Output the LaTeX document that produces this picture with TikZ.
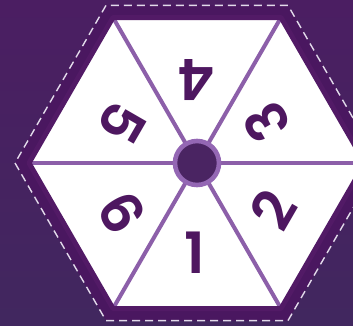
\documentclass[tikz,border=0pt]{standalone}
\usepackage{fontspec}
\setmainfont{Poppins}
\newfontfamily\digitfont{Poppins SemiBold}
\usepackage{tikz}
\definecolor{bgtop}{HTML}{4B1E62}
\definecolor{bgbot}{HTML}{41275F}
\definecolor{band}{HTML}{4A1760}
\definecolor{rim}{HTML}{521A66}
\definecolor{spoke}{HTML}{8C5FA9}
\definecolor{ring}{HTML}{9467B4}
\definecolor{hubfill}{HTML}{4A2462}
\definecolor{digit}{HTML}{4E1760}
\definecolor{dashwhite}{HTML}{E2DAEA}

\begin{document}
\begin{tikzpicture}[x=1pt,y=1pt,
  spokeline/.style={line width=4pt, color=spoke},
  num/.style={font=\fontsize{57}{57}\digitfont, text=digit, inner sep=0pt},
  hub/.style={circle, draw=ring, fill=hubfill, line width=4.6pt, minimum size=44pt, inner sep=0pt}]
\useasboundingbox (-197,-162) rectangle (156,163);
\shade[top color=bgtop, bottom color=bgbot] (-197,-162) rectangle (156,163);
\fill[band] (182,0) -- (91,157.6) -- (-91,157.6) -- (-182,0) -- (-91,-157.6) -- (91,-157.6) -- cycle;
\draw[dashwhite, line width=1.4pt, dash pattern=on 8pt off 5pt] (182,0) -- (91,157.6) -- (-91,157.6) -- (-182,0) -- (-91,-157.6) -- (91,-157.6) -- cycle;
\coordinate (v1) at (168,0);
\coordinate (v2) at (84,145.5);
\coordinate (v3) at (-84,145.5);
\coordinate (v4) at (-168,0);
\coordinate (v5) at (-84,-145.5);
\coordinate (v6) at (84,-145.5);
\fill[white] (v1) -- (v2) -- (v3) -- (v4) -- (v5) -- (v6) -- cycle;
\draw[spokeline] (0,0) -- (v1);
\draw[spokeline] (0,0) -- (v2);
\draw[spokeline] (0,0) -- (v3);
\draw[spokeline] (0,0) -- (v4);
\draw[spokeline] (0,0) -- (v5);
\draw[spokeline] (0,0) -- (v6);
\draw[rim, line width=5pt, line join=round] (v1) -- (v2) -- (v3) -- (v4) -- (v5) -- (v6) -- cycle;
\node[hub] (hub) at (0,0) {};
\node[num, rotate=0] (one) at (-2,-90) {1};
\node[num, rotate=60] (two) at (76,-47) {2};
\node[num, rotate=120] (three) at (70,41) {3};
\node[num, rotate=180] (four) at (0,83) {4};
\node[num, rotate=240] (five) at (-75,40) {5};
\node[num, rotate=300] (six) at (-75,-50) {6};
\end{tikzpicture}
\end{document}
